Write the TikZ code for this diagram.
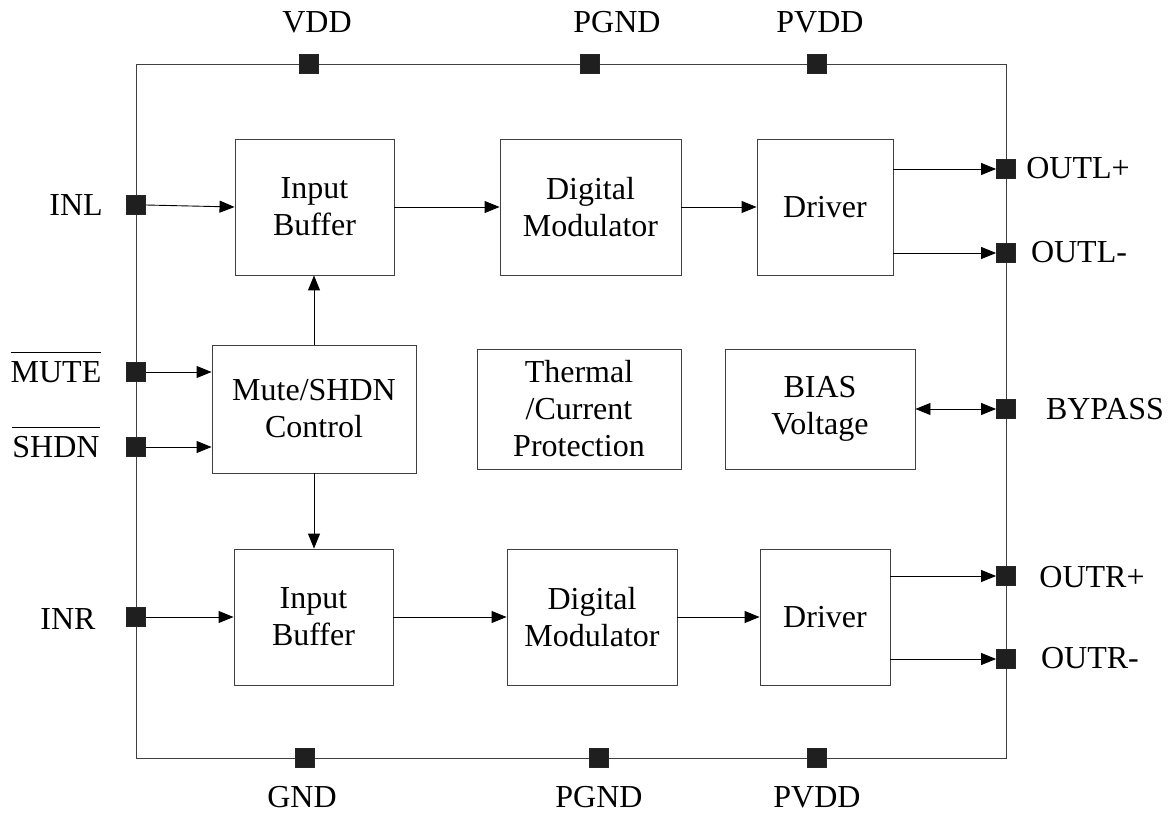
\documentclass[tikz,border=0pt]{standalone}
\usepackage{fontspec}
\setmainfont{Liberation Serif}
\usetikzlibrary{arrows.meta,positioning,calc}
\tikzset{
  block/.style  = {shape=rectangle, draw=black!75, line width=0.9pt,
                   align=center, inner sep=0pt},
  pad/.style    = {shape=rectangle, draw=black!85, fill=black!88,
                   line width=0.8pt, minimum size=19pt, inner sep=0pt},
  lbl/.style    = {inner sep=0pt},
  sig/.style    = {draw, line width=0.9pt, -{Triangle[length=15pt,width=12pt]}},
  sigboth/.style= {draw, line width=0.9pt,
                   {Triangle[length=15pt,width=12pt]}-{Triangle[length=15pt,width=12pt]}},
}
\newcommand{\activelow}[1]{$\overline{\mbox{#1}\rule{0pt}{28pt}}$}
\begin{document}
\begin{tikzpicture}[
        x = 1pt, y = -1pt,
        every node/.style = {font=\fontsize{32}{37}\selectfont},
    ]
    \useasboundingbox (0,0) rectangle (1171,813);
    % chip outline
    \draw[line width=0.9pt, black!75] (136,64) rectangle (1006,758);

    % blocks
    \node [block, minimum width=159pt, minimum height=136pt] (inbufL) at (314.5,207) {Input\\Buffer};
    \node [block, minimum width=181pt, minimum height=136pt] (modL)   at (590.5,207) {Digital\\Modulator};
    \node [block, minimum width=136pt, minimum height=136pt] (drvL)   at (825,207)   {Driver};
    \node [block, minimum width=204pt, minimum height=128pt] (mute)   at (314,409)   {Mute/SHDN\\Control};
    \node [block, minimum width=204pt, minimum height=120pt] (therm)  at (579,409)   {Thermal\\/Current\\Protection};
    \node [block, minimum width=190pt, minimum height=120pt] (bias)   at (820,409)   {BIAS\\Voltage};
    \node [block, minimum width=159pt, minimum height=136pt] (inbufR) at (313.5,617) {Input\\Buffer};
    \node [block, minimum width=170pt, minimum height=136pt] (modR)   at (592,617)   {Digital\\Modulator};
    \node [block, minimum width=130pt, minimum height=136pt] (drvR)   at (825,617)   {Driver};

    % pads
    \node [pad] (pVDD)   at (309,64)  {};
    \node [pad] (pPGNDt) at (590,64)  {};
    \node [pad] (pPVDDt) at (817,64)  {};
    \node [pad] (pGND)   at (305,758) {};
    \node [pad] (pPGNDb) at (599,758) {};
    \node [pad] (pPVDDb) at (817,758) {};
    \node [pad] (pINL)   at (136,205) {};
    \node [pad] (pMUTE)  at (136,372) {};
    \node [pad] (pSHDN)  at (136,447) {};
    \node [pad] (pINR)   at (136,617) {};
    \node [pad] (pOLp)   at (1006,169) {};
    \node [pad] (pOLm)   at (1006,253) {};
    \node [pad] (pBYP)   at (1006,409) {};
    \node [pad] (pORp)   at (1006,576) {};
    \node [pad] (pORm)   at (1006,659) {};

    % pad names
    \node [lbl] (tVDD)   at (317,22)   {VDD};
    \node [lbl] (tPGNDt) at (617,22)   {PGND};
    \node [lbl] (tPVDDt) at (820,22)   {PVDD};
    \node [lbl] (tGND)   at (302,797)  {GND};
    \node [lbl] (tPGNDb) at (599,797)  {PGND};
    \node [lbl] (tPVDDb) at (817,797)  {PVDD};
    \node [lbl] (tINL)   at (76,205)   {INL};
    \node [lbl, anchor=base] (tMUTE) at (56,382) {\activelow{MUTE}};
    \node [lbl, anchor=base] (tSHDN) at (56,457) {\activelow{SHDN}};
    \node [lbl] (tINR)   at (68,619)   {INR};
    \node [lbl] (tOLp)   at (1078,168) {OUTL+};
    \node [lbl] (tOLm)   at (1079,252) {OUTL-};
    \node [lbl] (tBYP)   at (1105,409) {BYPASS};
    \node [lbl] (tORp)   at (1092,577) {OUTR+};
    \node [lbl] (tORm)   at (1090,658) {OUTR-};

    % left channel
    \draw [sig] (pINL.east) -- (inbufL.west);
    \draw [sig] (inbufL.east) -- (modL.west);
    \draw [sig] (modL.east) -- (drvL.west);
    \draw [sig] (drvL.east |- pOLp) -- (pOLp.west);
    \draw [sig] (drvL.east |- pOLm) -- (pOLm.west);

    % control
    \draw [sig] (pMUTE.east) -- (mute.west |- pMUTE);
    \draw [sig] (pSHDN.east) -- (mute.west |- pSHDN);
    \draw [sig] (mute.north) -- (mute.north |- inbufL.south);
    \draw [sig] (mute.south) -- (mute.south |- inbufR.north);
    \draw [sigboth] (bias.east) -- (pBYP.west);

    % right channel
    \draw [sig] (pINR.east) -- (inbufR.west);
    \draw [sig] (inbufR.east) -- (modR.west);
    \draw [sig] (modR.east) -- (drvR.west);
    \draw [sig] (drvR.east |- pORp) -- (pORp.west);
    \draw [sig] (drvR.east |- pORm) -- (pORm.west);
\end{tikzpicture}
\end{document}
